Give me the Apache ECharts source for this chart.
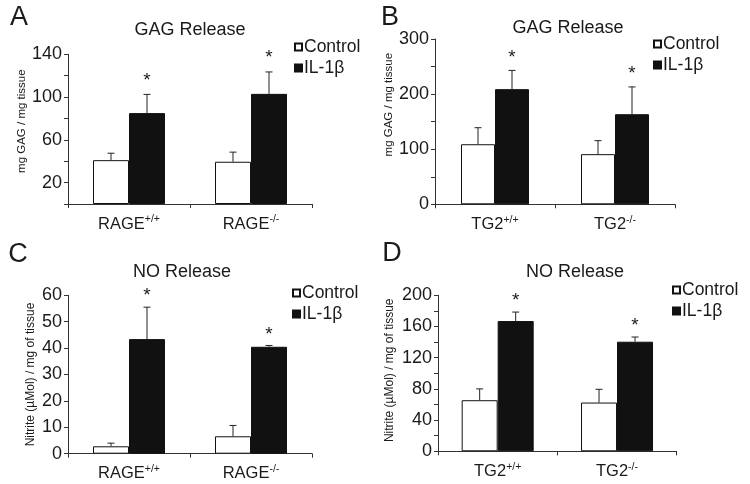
<!DOCTYPE html>
<html><head><meta charset="utf-8">
<script src="https://cdn.jsdelivr.net/npm/echarts@6/dist/echarts.min.js"></script>
<style>html,body{margin:0;padding:0;background:#fff}#c{width:750px;height:484px}</style>
</head><body><div id="c"></div>
<script>
// ---------- data ----------
const seriesNames = ['Control', 'IL-1β'];
const catsRAGE = ['RAGE+/+', 'RAGE-/-'];
const catsTG2 = ['TG2+/+', 'TG2-/-'];

// Panel A: GAG release, RAGE
const ctrlA = [41, 39.5], ctrlSdA = [6.5, 9];
const ilA = [85, 103], ilSdA = [17.5, 20.5];
const ticksA = [20, 60, 100, 140];
// Panel B: GAG release, TG2
const ctrlB = [109, 91], ctrlSdB = [30, 24.5];
const ilB = [209, 163.5], ilSdB = [34, 49.5];
const ticksB = [0, 100, 200, 300];
// Panel C: NO release, RAGE
const ctrlC = [2.8, 6.6], ctrlSdC = [1.2, 4.1];
const ilC = [43.4, 40.5], ilSdC = [12.1, 0.5];
const ticksC = [0, 10, 20, 30, 40, 50, 60];
// Panel D: NO release, TG2
const ctrlD = [65.5, 62.5], ctrlSdD = [14.5, 17];
const ilD = [167, 140.5], ilSdD = [11.5, 6];
const ticksD = [0, 40, 80, 120, 160, 200];
// significance marks (IL-1β vs control)
const sigA = [true, true], sigB = [true, true], sigC = [true, true], sigD = [true, true];

// ---------- styling ----------
const FONT = "'Liberation Sans', Arial, sans-serif";
const INK = '#1a1a1a';
const AX = '#333';

const panels = [
  {cats: catsRAGE, ctrl: ctrlA, ctrlSd: ctrlSdA, il: ilA, ilSd: ilSdA, ticks: ticksA, sig: sigA,
   grid: {left: 68, top: 54.3, width: 244, height: 149.7}, min: 0, max: 140, interval: 20, bw: 36,
   name: 'mg GAG / mg tissue', nameSize: 11.5, nameGap: 40, namePad: 16, starOff: 14,
   legend: {left: 294, top: 38}, title: 'GAG Release', tx: 190, ty: 30, letter: 'A', lx: 19, ly: 18},
  {cats: catsTG2, ctrl: ctrlB, ctrlSd: ctrlSdB, il: ilB, ilSd: ilSdB, ticks: ticksB, sig: sigB,
   grid: {left: 435, top: 39, width: 240, height: 165.3}, min: 0, max: 300, interval: 50, bw: 34,
   name: 'mg GAG / mg tissue', nameSize: 11.5, nameGap: 40, namePad: 34, starOff: 13,
   legend: {left: 653, top: 35}, title: 'GAG Release', tx: 568, ty: 28, letter: 'B', lx: 390, ly: 18},
  {cats: catsRAGE, ctrl: ctrlC, ctrlSd: ctrlSdC, il: ilC, ilSd: ilSdC, ticks: ticksC, sig: sigC,
   grid: {left: 68, top: 295.3, width: 244, height: 158.4}, min: 0, max: 60, interval: 10, bw: 36,
   name: 'Nitrite (µMol) / mg of tissue', nameSize: 12, nameGap: 31, namePad: 0, starOff: 11,
   legend: {left: 292, top: 284}, title: 'NO Release', tx: 182, ty: 272, letter: 'C', lx: 18, ly: 255},
  {cats: catsTG2, ctrl: ctrlD, ctrlSd: ctrlSdD, il: ilD, ilSd: ilSdD, ticks: ticksD, sig: sigD,
   grid: {left: 438, top: 295.3, width: 238.7, height: 156}, min: 0, max: 200, interval: 20, bw: 36,
   name: 'Nitrite (µMol) / mg of tissue', nameSize: 12, nameGap: 42, namePad: 6, starOff: 11,
   legend: {left: 672, top: 281}, title: 'NO Release', tx: 575, ty: 272, letter: 'D', lx: 392, ly: 254}
];

function splitCat(v) {
  const m = /^(.*?)([+\-]\/[+\-])$/.exec(v);
  return m ? '{b|' + m[1] + '}{s|' + m[2] + '}' : '{b|' + v + '}';
}

function errSeries(pi, name, means, sds, off, sig) {
  return {
    type: 'custom', name: name + ' err', xAxisIndex: pi, yAxisIndex: pi, z: 5, silent: true,
    data: means.map((m, i) => [i, m, sds[i], sig ? (sig[i] ? 1 : 0) : 0]),
    renderItem: function (params, api) {
      const base = api.coord([api.value(0), api.value(1)]);
      const top = api.coord([api.value(0), api.value(1) + api.value(2)]);
      const x = base[0] + off;
      const cap = 3.5;
      const kids = [
        {type: 'line', shape: {x1: x, y1: base[1], x2: x, y2: top[1]}, style: {stroke: '#222', lineWidth: 1}},
        {type: 'line', shape: {x1: x - cap, y1: top[1], x2: x + cap, y2: top[1]}, style: {stroke: '#222', lineWidth: 1}}
      ];
      if (api.value(3)) {
        kids.push({type: 'text', x: x, y: top[1] - panels[pi].starOff,
          style: {text: '*', fill: INK, font: '19px ' + FONT, align: 'center', verticalAlign: 'middle'}});
      }
      return {type: 'group', children: kids};
    }
  };
}

const option = {
  animation: false,
  backgroundColor: '#fff',
  textStyle: {fontFamily: FONT, color: INK},
  grid: panels.map(p => Object.assign({containLabel: false}, p.grid)),
  xAxis: panels.map((p, i) => ({
    type: 'category', gridIndex: i, data: p.cats, boundaryGap: true,
    axisLine: {lineStyle: {color: AX, width: 1}},
    axisTick: {show: true, length: 4, lineStyle: {color: AX}},
    axisLabel: {
      margin: 10, color: INK, fontFamily: FONT, formatter: splitCat,
      rich: {
        b: {fontSize: 16.5, lineHeight: 20, fontFamily: FONT, color: INK},
        s: {fontSize: 10.5, lineHeight: 10, verticalAlign: 'top', fontFamily: FONT, color: INK}
      }
    },
    splitLine: {show: false}
  })),
  yAxis: panels.map((p, i) => ({
    type: 'value', gridIndex: i, min: p.min, max: p.max, interval: p.interval,
    name: p.name, nameLocation: 'middle', nameGap: p.nameGap,
    nameTextStyle: {fontSize: p.nameSize, color: INK, fontFamily: FONT, padding: [0, 0, 0, p.namePad]},
    axisLine: {show: true, lineStyle: {color: AX, width: 1}},
    axisTick: {show: true, length: 4, lineStyle: {color: AX}},
    axisLabel: {fontSize: 18, color: INK, fontFamily: FONT, margin: 6,
      formatter: v => p.ticks.includes(v) ? String(v) : ''},
    splitLine: {show: false}
  })),
  legend: panels.map(p => ({
    data: seriesNames, orient: 'vertical', left: p.legend.left, top: p.legend.top,
    itemWidth: 7, itemHeight: 7, itemGap: 3, icon: 'rect',
    textStyle: {fontSize: 17.5, color: INK, fontFamily: FONT, padding: [0, 0, 0, -3]},
    selectedMode: false, padding: 0
  })),
  graphic: panels.flatMap(p => ([
    {type: 'text', x: p.tx, y: p.ty, style: {text: p.title, font: '18px ' + FONT, fill: INK, align: 'center', verticalAlign: 'middle'}},
    {type: 'text', x: p.lx, y: p.ly, style: {text: p.letter, font: '27px ' + FONT, fill: INK, align: 'center', verticalAlign: 'middle'}}
  ])),
  series: panels.flatMap((p, i) => ([
    {type: 'bar', name: seriesNames[0], xAxisIndex: i, yAxisIndex: i, data: p.ctrl, barWidth: p.bw, barGap: '0%',
     itemStyle: {color: '#fff', borderColor: '#111', borderWidth: 1}, silent: true},
    {type: 'bar', name: seriesNames[1], xAxisIndex: i, yAxisIndex: i, data: p.il, barWidth: p.bw, barGap: '0%',
     itemStyle: {color: '#111', borderColor: '#111', borderWidth: 1}, silent: true},
    errSeries(i, seriesNames[0], p.ctrl, p.ctrlSd, -p.bw / 2, null),
    errSeries(i, seriesNames[1], p.il, p.ilSd, p.bw / 2, p.sig)
  ]))
};

const chart = echarts.init(document.getElementById('c'), null, {renderer: 'canvas'});
chart.setOption(option);
</script>
</body></html>
